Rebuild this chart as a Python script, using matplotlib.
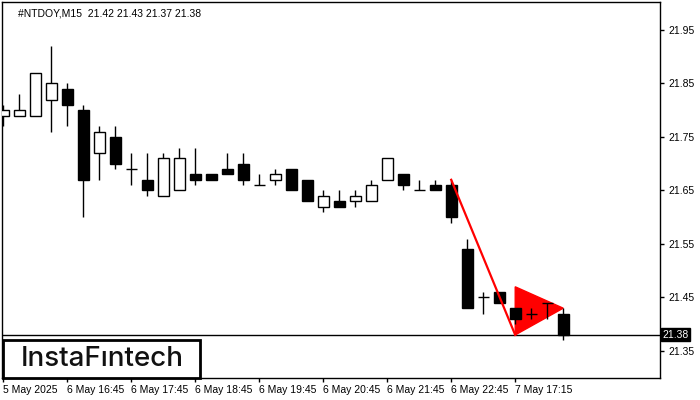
import matplotlib
matplotlib.use("Agg")
from matplotlib import pyplot as plt
from matplotlib.patches import Polygon, Rectangle
import numpy as np

# M15 candles
opens = [21.79, 21.79, 21.79, 21.82, 21.84, 21.80, 21.72, 21.75, 21.69, 21.67,
         21.64, 21.65, 21.68, 21.68, 21.69, 21.70, 21.66, 21.67, 21.69, 21.67,
         21.62, 21.63, 21.63, 21.63, 21.67, 21.68, 21.65, 21.66, 21.66, 21.54,
         21.45, 21.46, 21.43, 21.42, 21.44, 21.42]
highs = [21.81, 21.83, 21.87, 21.92, 21.85, 21.81, 21.77, 21.77, 21.72, 21.72,
         21.72, 21.73, 21.73, 21.68, 21.72, 21.72, 21.68, 21.69, 21.69, 21.67,
         21.65, 21.65, 21.65, 21.67, 21.71, 21.68, 21.67, 21.67, 21.67, 21.56,
         21.46, 21.46, 21.43, 21.43, 21.44, 21.43]
lows = [21.77, 21.79, 21.79, 21.76, 21.77, 21.60, 21.67, 21.69, 21.66, 21.64,
        21.64, 21.65, 21.66, 21.67, 21.68, 21.66, 21.66, 21.66, 21.65, 21.63,
        21.61, 21.62, 21.62, 21.63, 21.67, 21.65, 21.65, 21.65, 21.59, 21.43,
        21.42, 21.44, 21.40, 21.41, 21.41, 21.37]
closes = [21.80, 21.80, 21.87, 21.85, 21.81, 21.67, 21.76, 21.70, 21.69, 21.65,
          21.71, 21.71, 21.67, 21.67, 21.68, 21.67, 21.66, 21.68, 21.65, 21.63,
          21.64, 21.62, 21.64, 21.66, 21.71, 21.66, 21.65, 21.65, 21.60, 21.43,
          21.45, 21.44, 21.41, 21.42, 21.44, 21.38]

tick_pos = [0, 4, 8, 12, 16, 20, 24, 28, 32]
tick_labels = ["5 May 2025", "6 May 16:45", "6 May 17:45", "6 May 18:45",
               "6 May 19:45", "6 May 20:45", "6 May 21:45", "6 May 22:45",
               "7 May 17:15"]
y_ticks = [21.35, 21.45, 21.55, 21.65, 21.75, 21.85, 21.95]

# pattern: pole + pennant
pole_x = [28, 32]
pole_y = [21.67, 21.38]
flag_x = [32, 32, 35]
flag_y = [21.47, 21.38, 21.43]
last_price = 21.38
title = "#NTDOY,M15  21.42 21.43 21.37 21.38"

plt.rcParams['font.family'] = ['Liberation Sans', 'DejaVu Sans']
fig = plt.figure(figsize=(7, 4), dpi=100)
ax = fig.add_axes([2/700, 22/400, 658/700, 376/400])

w = 0.68
x = np.arange(len(opens))
ax.vlines(x, lows, highs, color="black", linewidth=1, zorder=3)
for i in x:
    o, c = opens[i], closes[i]
    bull = c >= o
    ax.add_patch(Rectangle((i - w/2, min(o, c)), w, abs(c - o),
                           facecolor="white" if bull else "black",
                           edgecolor="black", linewidth=1, zorder=4))

ax.axhline(last_price, color="black", linewidth=1, zorder=1)
ax.add_patch(Polygon(list(zip(flag_x, flag_y)), closed=True,
                     facecolor="red", edgecolor="red", zorder=2))
ax.plot(pole_x, pole_y, color="red", linewidth=1.6, zorder=5)

ax.set_xlim(-0.08, 41.05)
ax.set_ylim(21.2995, 22.0023)

ax.yaxis.tick_right()
ax.set_yticks(y_ticks)
ax.set_yticklabels(["%.2f" % v for v in y_ticks])
ax.tick_params(axis="y", direction="out", length=3, width=1, labelsize=7.5, pad=3)
ax.set_xticks(tick_pos)
ax.set_xticklabels(tick_labels, ha="left")
ax.tick_params(axis="x", direction="out", length=3, width=1, labelsize=7.5, pad=2)
for sp in ax.spines.values():
    sp.set_linewidth(1)

ax.text(0.024, 0.982, title, transform=ax.transAxes, fontsize=7.5, va="top", ha="left")

# last price tag on the price scale
ax.text(1.004, last_price, "21.38", transform=ax.get_yaxis_transform(),
        fontsize=7.5, color="white", va="center", ha="left",
        bbox=dict(boxstyle="square,pad=0.15", facecolor="black", edgecolor="black"))

# logo box
fig.patches.append(Rectangle((3/700, 22/400), 197/700, 38/400, transform=fig.transFigure,
                             facecolor="white", edgecolor="black", linewidth=2, zorder=5))
fig.text(102/700, 41/400, "InstaF\u0131ntech", fontsize=20, family=["Inter", "DejaVu Sans"],
         weight="medium", ha="center", va="center", color="#111111", zorder=6)

fig.savefig("out.png", dpi=100)
